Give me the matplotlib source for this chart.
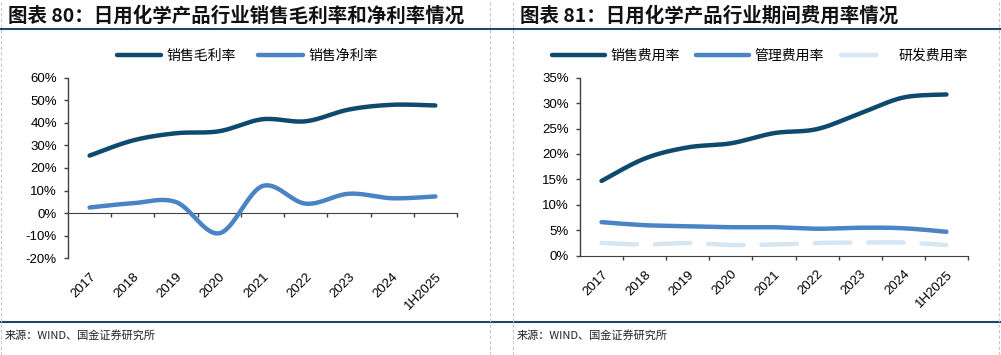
"""
Two-panel line chart: daily chemical products industry margins and expense ratios.
"""

import matplotlib
matplotlib.use('Agg')
import matplotlib.pyplot as plt
from matplotlib.lines import Line2D
from matplotlib.ticker import FuncFormatter
import numpy as np

plt.rcParams['font.family'] = ['Liberation Sans', 'Noto Sans CJK SC', 'DejaVu Sans']

# Data
years = ['2017', '2018', '2019', '2020', '2021', '2022', '2023', '2024', '1H2025']

gross_margin = [25.5, 32.2, 35.4, 36.3, 41.6, 40.7, 45.9, 48.0, 47.7]
net_margin = [2.5, 4.4, 4.9, -8.9, 12.0, 4.2, 8.6, 6.6, 7.4]

selling_ratio = [14.7, 19.1, 21.3, 22.1, 24.1, 24.9, 28.0, 31.1, 31.7]
admin_ratio = [6.6, 6.0, 5.8, 5.6, 5.6, 5.3, 5.5, 5.4, 4.7]
rd_ratio = [2.5, 2.2, 2.5, 2.1, 2.2, 2.5, 2.6, 2.6, 2.1]

left_title = '图表 80：日用化学产品行业销售毛利率和净利率情况'
right_title = '图表 81：日用化学产品行业期间费用率情况'
source_text = '来源：WIND、国金证券研究所'

DARK = '#0d4a6e'
MID = '#4a84c4'
LIGHT = '#d6e6f4'
NAVY = '#1c4866'
CJK = ['Noto Sans CJK SC', 'DejaVu Sans']


def smooth(x, y, n=30):
    """Catmull-Rom curve through the points, like the smoothed lines in Excel."""
    pts = np.column_stack([x, y]).astype(float)
    p = np.vstack([pts[0], pts, pts[-1]])
    out = []
    t = np.linspace(0, 1, n, endpoint=False)[:, None]
    for i in range(len(pts) - 1):
        p0, p1, p2, p3 = p[i], p[i + 1], p[i + 2], p[i + 3]
        seg = 0.5 * ((2 * p1) + (-p0 + p2) * t
                     + (2 * p0 - 5 * p1 + 4 * p2 - p3) * t ** 2
                     + (-p0 + 3 * p1 - 3 * p2 + p3) * t ** 3)
        out.append(seg)
    out.append(pts[-1:])
    s = np.vstack(out)
    return s[:, 0], s[:, 1]


def style_axes(ax, ymin, ymax, step):
    x = np.arange(len(years))
    ax.set_xlim(-0.5, len(years) - 0.5)
    ax.set_ylim(ymin, ymax)
    ax.set_yticks(np.arange(ymin, ymax + step / 2, step))
    ax.yaxis.set_major_formatter(FuncFormatter(lambda v, _: f'{v:.0f}%'))
    for s in ['top', 'right']:
        ax.spines[s].set_visible(False)
    ax.spines['left'].set_color('#404040')
    ax.spines['left'].set_linewidth(1.0)
    ax.tick_params(axis='y', direction='out', length=3, width=1.0,
                   color='#404040', labelsize=9.5, pad=5)
    ax.set_xticks(x)
    ax.set_xticklabels(years, rotation=45, ha='right', rotation_mode='anchor',
                       fontsize=9.5)
    ax.tick_params(axis='x', which='major', length=0, pad=9)
    ax.set_xticks(np.arange(len(years)) + 0.5, minor=True)
    ax.tick_params(axis='x', which='minor', direction='out', length=3,
                   width=1.0, color='#404040')
    ax.patch.set_alpha(0)


fig = plt.figure(figsize=(10.01, 3.55), dpi=100)
W, H = 1001.0, 355.0

# Left panel: margins
ax1 = fig.add_axes([68 / W, 1 - 258.3 / H, 389 / W, 180.6 / H])
xi = np.arange(len(years))
sx, sy = smooth(xi, gross_margin)
ax1.plot(sx, sy, color=DARK, lw=3.2, solid_capstyle='round', label='销售毛利率')
sx, sy = smooth(xi, net_margin)
ax1.plot(sx, sy, color=MID, lw=3.2, solid_capstyle='round', label='销售净利率')
style_axes(ax1, -20, 60, 10)
# axis line and tick marks at zero, labels stay at the bottom
ax1.spines['bottom'].set_visible(False)
ax1.tick_params(axis='x', which='minor', length=0)
zero_pos = (0 - (-20)) / (60 - (-20))
sec = ax1.secondary_xaxis(zero_pos)
sec.set_xticks(np.arange(len(years)) + 0.5)
sec.set_xticklabels([])
sec.spines['bottom'].set_color('#404040')
sec.tick_params(axis='x', direction='out', length=3, width=1.0, color='#404040')

leg1 = fig.legend(handles=ax1.get_lines(), loc='center', ncol=2,
                  bbox_to_anchor=(247 / W, 1 - 56 / H), frameon=False,
                  handlelength=3.2, columnspacing=1.6, handletextpad=0.4,
                  prop={'family': CJK, 'size': 10})

# Right panel: expense ratios
ax2 = fig.add_axes([580 / W, 1 - 255.7 / H, 388 / W, 178 / H])
sx, sy = smooth(xi, selling_ratio)
ax2.plot(sx, sy, color=DARK, lw=3.2, solid_capstyle='round', label='销售费用率')
sx, sy = smooth(xi, admin_ratio)
ax2.plot(sx, sy, color=MID, lw=3.2, solid_capstyle='round', label='管理费用率')
sx, sy = smooth(xi, rd_ratio)
ax2.plot(sx, sy, color=LIGHT, lw=3.2, dashes=(8, 4), dash_capstyle='round',
         label='研发费用率')
style_axes(ax2, 0, 35, 5)
ax2.spines['bottom'].set_color('#404040')

leg2 = fig.legend(handles=ax2.get_lines(), loc='center', ncol=3,
                  bbox_to_anchor=(760 / W, 1 - 56 / H), frameon=False,
                  handlelength=3.8, columnspacing=1.2, handletextpad=0.4,
                  prop={'family': CJK, 'size': 10})

# Titles, rules and frame decoration
fig.text(8 / W, 1 - 16 / H, left_title, fontsize=14, fontweight='bold',
         family=CJK, va='center', ha='left', color='#111111')
fig.text(520 / W, 1 - 16 / H, right_title, fontsize=14, fontweight='bold',
         family=CJK, va='center', ha='left', color='#111111')

for yy in [29, 322]:
    fig.add_artist(Line2D([0, 1], [1 - yy / H, 1 - yy / H], color=NAVY, lw=1.5,
                          transform=fig.transFigure))
for xx in [1, 490, 513, 999]:
    fig.add_artist(Line2D([xx / W, xx / W], [0, 1], color='#c8c8c8', lw=0.8,
                          ls=(0, (3, 2)), transform=fig.transFigure))

fig.text(5 / W, 1 - 335 / H, source_text, fontsize=8, family=CJK,
         va='center', ha='left', color='#222222')
fig.text(517 / W, 1 - 335 / H, source_text, fontsize=8, family=CJK,
         va='center', ha='left', color='#222222')

fig.savefig('out.png', dpi=100)
plt.close(fig)
